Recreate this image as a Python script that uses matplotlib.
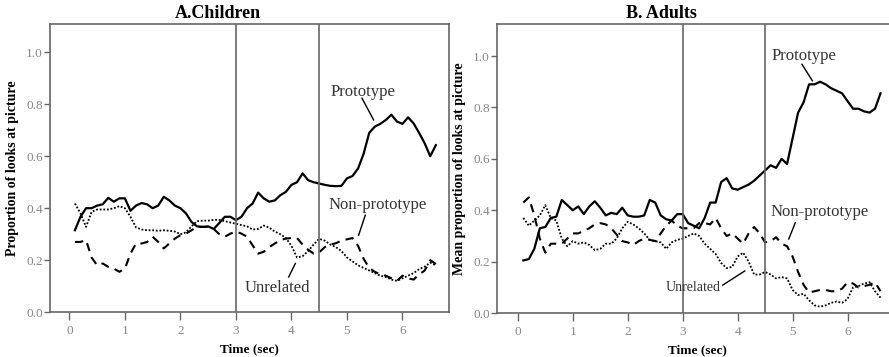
import matplotlib
matplotlib.use("Agg")
import matplotlib.pyplot as plt
import numpy as np

# time axis, seconds (one sample every 0.1 s)
time = np.round(np.arange(1, 67) * 0.1, 1)

children_prototype = [
    0.315, 0.367, 0.40, 0.40, 0.41, 0.415, 0.44, 0.425, 0.438, 0.438,
    0.39, 0.41, 0.42, 0.415, 0.40, 0.41, 0.444, 0.43, 0.41, 0.40,
    0.38, 0.347, 0.33, 0.328, 0.33, 0.32, 0.343, 0.367, 0.367, 0.354,
    0.367, 0.40, 0.418, 0.46, 0.438, 0.425, 0.43, 0.45, 0.463, 0.49,
    0.50, 0.534, 0.508, 0.50, 0.495, 0.49, 0.486, 0.485, 0.486, 0.515,
    0.524, 0.553, 0.61, 0.69, 0.714, 0.725, 0.74, 0.76, 0.734, 0.725,
    0.75, 0.727, 0.69, 0.65, 0.60, 0.643]
children_nonproto = [
    0.27, 0.27, 0.277, 0.21, 0.18, 0.187, 0.174, 0.167, 0.155, 0.167,
    0.225, 0.264, 0.264, 0.27, 0.29, 0.27, 0.245, 0.264, 0.283, 0.296,
    0.302, 0.315, 0.328, 0.328, 0.328, 0.32, 0.30, 0.29, 0.302, 0.31,
    0.302, 0.29, 0.257, 0.225, 0.232, 0.25, 0.264, 0.277, 0.283, 0.285,
    0.285, 0.26, 0.24, 0.225, 0.23, 0.25, 0.26, 0.265, 0.275, 0.28,
    0.285, 0.255, 0.205, 0.17, 0.155, 0.145, 0.14, 0.13, 0.12, 0.14,
    0.13, 0.125, 0.145, 0.16, 0.20, 0.185]
children_unrelated = [
    0.418, 0.38, 0.328, 0.386, 0.395, 0.395, 0.395, 0.40, 0.408, 0.40,
    0.367, 0.326, 0.318, 0.315, 0.315, 0.313, 0.315, 0.313, 0.31, 0.30,
    0.307, 0.33, 0.35, 0.352, 0.352, 0.355, 0.355, 0.35, 0.345, 0.34,
    0.335, 0.33, 0.318, 0.32, 0.333, 0.325, 0.31, 0.30, 0.285, 0.255,
    0.21, 0.215, 0.235, 0.26, 0.282, 0.275, 0.26, 0.25, 0.235, 0.21,
    0.195, 0.18, 0.17, 0.16, 0.15, 0.14, 0.135, 0.125, 0.12, 0.13,
    0.14, 0.15, 0.165, 0.175, 0.19, 0.18]

adults_prototype = [
    0.205, 0.21, 0.25, 0.33, 0.335, 0.37, 0.375, 0.44, 0.42, 0.40,
    0.415, 0.385, 0.415, 0.435, 0.41, 0.38, 0.39, 0.385, 0.41, 0.38,
    0.375, 0.375, 0.38, 0.44, 0.43, 0.38, 0.365, 0.36, 0.385, 0.385,
    0.35, 0.34, 0.33, 0.37, 0.43, 0.43, 0.51, 0.525, 0.485, 0.48,
    0.49, 0.50, 0.515, 0.535, 0.555, 0.575, 0.565, 0.60, 0.58, 0.68,
    0.78, 0.82, 0.89, 0.89, 0.90, 0.89, 0.875, 0.865, 0.855, 0.825,
    0.795, 0.795, 0.785, 0.78, 0.795, 0.855]
adults_nonproto = [
    0.43, 0.45, 0.38, 0.29, 0.235, 0.27, 0.27, 0.27, 0.29, 0.31,
    0.31, 0.32, 0.33, 0.345, 0.35, 0.345, 0.33, 0.305, 0.28, 0.275,
    0.265, 0.28, 0.29, 0.285, 0.28, 0.31, 0.34, 0.36, 0.34, 0.33,
    0.33, 0.33, 0.35, 0.35, 0.345, 0.37, 0.33, 0.30, 0.31, 0.29,
    0.27, 0.31, 0.335, 0.31, 0.275, 0.28, 0.295, 0.27, 0.26, 0.22,
    0.16, 0.11, 0.08, 0.085, 0.09, 0.09, 0.085, 0.085, 0.095, 0.12,
    0.115, 0.10, 0.105, 0.11, 0.12, 0.085]
adults_unrelated = [
    0.37, 0.34, 0.36, 0.38, 0.42, 0.37, 0.36, 0.29, 0.26, 0.28,
    0.27, 0.275, 0.265, 0.245, 0.25, 0.27, 0.27, 0.29, 0.33, 0.355,
    0.345, 0.33, 0.31, 0.285, 0.28, 0.275, 0.25, 0.275, 0.285, 0.29,
    0.30, 0.31, 0.30, 0.27, 0.25, 0.23, 0.195, 0.175, 0.18, 0.22,
    0.235, 0.20, 0.15, 0.15, 0.16, 0.15, 0.135, 0.14, 0.135, 0.09,
    0.07, 0.075, 0.05, 0.03, 0.025, 0.03, 0.04, 0.045, 0.04, 0.055,
    0.10, 0.105, 0.115, 0.12, 0.085, 0.06]

markers_sec = [3, 4.5]
yticks = [0.0, 0.2, 0.4, 0.6, 0.8, 1.0]
xticks = [0, 1, 2, 3, 4, 5, 6]

plt.rcParams['font.family'] = ['Liberation Serif', 'DejaVu Serif']

fig = plt.figure(figsize=(8.89, 3.57), dpi=100)
ax1 = fig.add_axes([0.0562, 0.126, 0.449, 0.807])
ax2 = fig.add_axes([0.559, 0.123, 0.45, 0.81])

frame = '#666666'


def draw_panel(ax, proto, nonproto, unrel, title, ylabel, xlim, ylim, title_x):
    ax.plot(time, proto, color='black', lw=1.6, ls='-')
    ax.plot(time, nonproto, color='black', lw=1.5, ls=(0, (4, 3)))
    ax.plot(time, unrel, color='black', lw=1.3, ls=(0, (1, 1)))
    for m in markers_sec:
        ax.axvline(m, color=frame, lw=1.2)
    ax.set_xlim(*xlim)
    ax.set_ylim(*ylim)
    ax.set_xticks(xticks)
    ax.set_yticks(yticks)
    ax.set_yticklabels(['%.1f' % v for v in yticks])
    ax.tick_params(axis='x', direction='out', length=6, width=1, colors=frame,
                   labelsize=9.5, labelcolor='#888888', pad=3)
    ax.tick_params(axis='y', direction='out', length=4, width=1, colors=frame,
                   labelsize=9.5, labelcolor='#888888', pad=1)
    for s in ax.spines.values():
        s.set_color(frame)
        s.set_linewidth(1.2)
    ax.set_title(title, fontsize=13, fontweight='bold', pad=4, x=title_x)
    ax.set_ylabel(ylabel, fontsize=10, fontweight='bold', labelpad=5)
    ax.set_xlabel("Time (sec)", fontsize=9.5, fontweight='bold', labelpad=5)


draw_panel(ax1, children_prototype, children_nonproto, children_unrelated,
           "A.Children", "Proportion of looks at picture", (-0.35, 6.84), (0, 1.11), 0.42)
draw_panel(ax2, adults_prototype, adults_nonproto, adults_unrelated,
           "B. Adults", "Mean proportion of looks at picture", (-0.38, 6.9), (0, 1.125), 0.41)

lab = dict(color='#333333', ha='center', va='center')
ann = dict(color='black', lw=1.0)

# children labels
ax1.text(5.29, 0.848, "Prototype", fontsize=12, **lab)
ax1.plot([5.27, 5.48], [0.824, 0.74], **ann)
ax1.text(5.56, 0.412, "Non-prototype", fontsize=12, **lab)
ax1.plot([5.33, 5.21], [0.373, 0.296], **ann)
ax1.text(3.74, 0.094, "Unrelated", fontsize=12, **lab)
ax1.plot([3.95, 4.07], [0.135, 0.187], **ann)

# adults labels
ax2.text(5.21, 1.0, "Prototype", fontsize=12, **lab)
ax2.plot([5.17, 5.36], [0.968, 0.904], **ann)
ax2.text(5.49, 0.393, "Non-prototype", fontsize=12, **lab)
ax2.plot([5.05, 4.93], [0.352, 0.288], **ann)
ax2.text(3.19, 0.10, "Unrelated", fontsize=10, **lab)
ax2.plot([3.73, 4.13], [0.109, 0.164], **ann)

fig.savefig("out.png", dpi=100)
